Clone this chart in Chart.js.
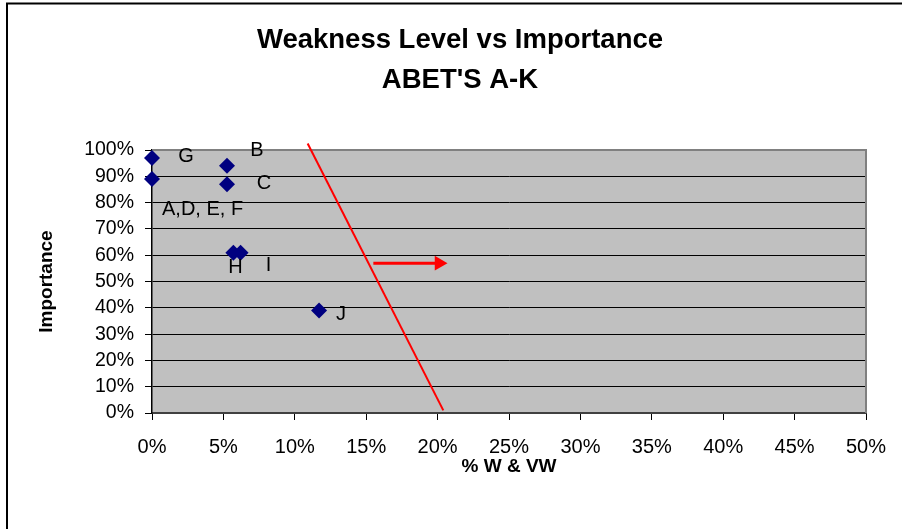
<!DOCTYPE html>
<html>
<head>
<meta charset="utf-8">
<title>Weakness Level vs Importance</title>
<script src="https://cdn.jsdelivr.net/npm/chart.js@4/dist/chart.umd.min.js"></script>
<style>
    html, body { margin: 0; padding: 0; background: #fff; }
    #wrap { position: relative; width: 902px; height: 529px; }
</style>
</head>
<body>
<div id="wrap"><canvas id="weaknessChart" width="902" height="529"></canvas></div>
<script>
// Outcome labels and values (% W & VW, % importance)
const outcomeLabels = ['A,D, E, F', 'B', 'C', 'G', 'H', 'I', 'J'];
const weaknessPct = [0, 5.25, 5.25, 0, 5.7, 6.2, 11.7];
const importancePct = [89, 94, 87, 97, 61, 61, 39];

// Red threshold line and arrow (data space)
const thresholdX = [10.9, 20.4];
const thresholdY = [102.5, 1];
const arrowX = [15.5, 20.1];
const arrowY = [57, 57];

// Axis ticks
const xTicks = [0, 5, 10, 15, 20, 25, 30, 35, 40, 45, 50];
const yTicks = [0, 10, 20, 30, 40, 50, 60, 70, 80, 90, 100];

// label offsets from each point (pixels) and alignment
const labelOffsets = [[10, 30, 'left'], [30, -15, 'center'], [37, -1, 'center'], [34, -2, 'center'],
    [2, 15, 'center'], [28, 13, 'center'], [22, 4, 'center']];

const FONT = "'Liberation Sans', Arial, sans-serif";

const toXY = (xs, ys) => xs.map((x, i) => ({ x: x, y: ys[i] }));

// gray plot area + border frame
const plotBackground = {
    id: 'plotBackground',
    beforeDraw(chart) {
        const { ctx, chartArea: a } = chart;
        ctx.save();
        ctx.fillStyle = '#C0C0C0';
        ctx.fillRect(a.left, a.top, a.right - a.left, a.bottom - a.top);
        // outer chart frame (left and top edges visible)
        ctx.strokeStyle = '#000';
        ctx.lineWidth = 2;
        ctx.beginPath();
        ctx.moveTo(7, chart.height);
        ctx.lineTo(7, 3.5);
        ctx.lineTo(chart.width, 3.5);
        ctx.stroke();
        ctx.restore();
    },
    beforeDatasetsDraw(chart) {
        const { ctx, chartArea: a } = chart;
        ctx.save();
        ctx.strokeStyle = '#808080';
        ctx.lineWidth = 2;
        ctx.beginPath();
        ctx.moveTo(a.left, a.top);
        ctx.lineTo(a.right, a.top);
        ctx.lineTo(a.right, a.bottom);
        ctx.stroke();
        ctx.restore();
    }
};

// letters next to the diamonds
const pointLabels = {
    id: 'pointLabels',
    afterDatasetsDraw(chart) {
        const { ctx } = chart;
        const meta = chart.getDatasetMeta(0);
        ctx.save();
        ctx.font = '20px ' + FONT;
        ctx.fillStyle = '#000';
        ctx.textBaseline = 'middle';
        meta.data.forEach((pt, i) => {
            const off = labelOffsets[i];
            ctx.textAlign = off[2];
            ctx.fillText(outcomeLabels[i], pt.x + off[0], pt.y + off[1]);
        });
        ctx.restore();
    }
};

const ctx = document.getElementById('weaknessChart').getContext('2d');

new Chart(ctx, {
    type: 'scatter',
    data: {
        datasets: [
            {
                label: 'Outcomes',
                data: toXY(weaknessPct, importancePct),
                pointStyle: 'rectRot',
                pointRadius: 8,
                backgroundColor: '#000080',
                borderColor: '#000080',
                borderWidth: 0,
                clip: false
            },
            {
                label: 'Threshold',
                data: toXY(thresholdX, thresholdY),
                showLine: true,
                borderColor: '#FF0000',
                borderWidth: 2,
                pointRadius: 0,
                clip: false
            },
            {
                label: 'Arrow',
                data: toXY(arrowX, arrowY),
                showLine: true,
                borderColor: '#FF0000',
                borderWidth: 3,
                backgroundColor: '#FF0000',
                pointStyle: 'triangle',
                rotation: 90,
                pointRadius: [0, 8.5],
                pointBorderWidth: 0
            }
        ]
    },
    options: {
        responsive: false,
        animation: false,
        layout: {
            padding: { top: 0, right: 36, bottom: 0, left: 54 }
        },
        plugins: {
            legend: { display: false },
            tooltip: { enabled: false },
            title: {
                display: true,
                text: ['Weakness Level vs Importance', "ABET'S A-K"],
                color: '#000',
                font: { family: FONT, size: 27.5, weight: 'bold', lineHeight: 1.46 },
                padding: { top: 20, bottom: 49.8 }
            }
        },
        scales: {
            x: {
                type: 'linear',
                min: 0,
                max: 50,
                afterBuildTicks: (scale) => { scale.ticks = xTicks.map(v => ({ value: v })); },
                afterFit: (scale) => { scale.height = 116; },
                ticks: {
                    color: '#000',
                    padding: 15,
                    maxRotation: 0,
                    autoSkip: false,
                    font: { family: FONT, size: 20 },
                    callback: (v) => v + '%'
                },
                grid: {
                    drawOnChartArea: false,
                    drawTicks: true,
                    tickLength: 7,
                    color: '#000',
                    tickWidth: 1
                },
                border: { color: '#404040', width: 2 },
                title: {
                    display: true,
                    text: '% W & VW',
                    color: '#000',
                    font: { family: FONT, size: 19, weight: 'bold' },
                    padding: { top: 0, bottom: 51 }
                }
            },
            y: {
                type: 'linear',
                min: 0,
                max: 100,
                afterBuildTicks: (scale) => { scale.ticks = yTicks.map(v => ({ value: v })); },
                afterFit: (scale) => { scale.width = 98; },
                ticks: {
                    color: '#000',
                    padding: 11,
                    autoSkip: false,
                    font: { family: FONT, size: 19.5 },
                    callback: (v) => v + '%'
                },
                grid: {
                    color: '#000',
                    lineWidth: 1,
                    drawTicks: true,
                    tickLength: 7
                },
                border: { color: '#000', width: 1.5 },
                title: {
                    display: true,
                    text: 'Importance',
                    color: '#000',
                    font: { family: FONT, size: 19, weight: 'bold' },
                    padding: { top: -18.7, bottom: 0 }
                }
            }
        }
    },
    plugins: [plotBackground, pointLabels]
});
</script>
</body>
</html>
